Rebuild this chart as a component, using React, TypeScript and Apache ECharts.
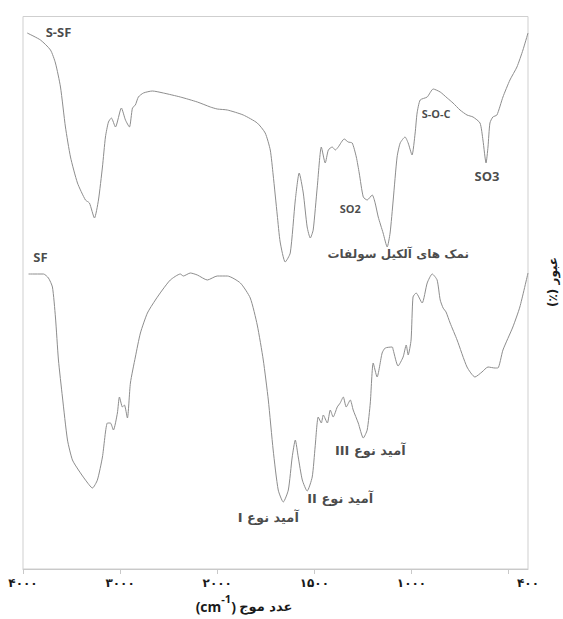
import React, { useEffect, useRef } from "react";
import * as echarts from "echarts";

// Axis ticks (wavenumber, cm-1). The scale changes at 2000 cm-1 (x2 expansion below).
const tickWavenumbers = [4000, 3000, 2000, 1500, 1000, 500];
const labelWavenumbers = [4000, 3000, 2000, 1500, 1000, 400];
const tickLabels = ["۴۰۰۰", "۳۰۰۰", "۲۰۰۰", "۱۵۰۰", "۱۰۰۰", "۴۰۰"];

// S-SF spectrum: [wavenumber, transmittance (offset, a.u.)]
const ssfSpectrum: [number, number][] = [
  [3957, 107.2], [3820, 105.8], [3717, 103.8], [3666, 101.2], [3614, 96.4], [3563, 88.4],
  [3511, 82.4], [3439, 77.2], [3357, 73.8], [3316, 73.2], [3264, 70.2], [3223, 73.8],
  [3182, 80.4], [3151, 86.4], [3120, 89.4], [3090, 90.2], [3048, 88.4], [2987, 92.2],
  [2945, 89.8], [2904, 88.4], [2873, 92.2], [2843, 92.8], [2812, 94.4], [2760, 95.2],
  [2668, 95.6], [2555, 95.2], [2380, 94.4], [2205, 93.4], [2071, 92.4], [2000, 92.0],
  [1948, 91.8], [1866, 90.8], [1794, 89.2], [1753, 87.2], [1727, 83.8], [1712, 78.8],
  [1691, 70.8], [1676, 65.4], [1650, 61.4], [1624, 63.2], [1598, 73.8], [1578, 79.2],
  [1557, 75.2], [1537, 68.4], [1521, 66.2], [1506, 67.8], [1485, 76.4], [1464, 84.4],
  [1444, 81.2], [1428, 83.8], [1408, 84.4], [1392, 83.8], [1377, 84.4], [1346, 86.0],
  [1326, 85.4], [1305, 85.2], [1284, 82.4], [1269, 79.2], [1248, 74.4], [1228, 73.8],
  [1202, 74.8], [1187, 73.2], [1171, 70.4], [1146, 67.2], [1125, 64.4], [1110, 67.2],
  [1094, 73.8], [1074, 82.4], [1058, 85.2], [1033, 86.4], [1017, 85.2], [997, 82.8],
  [981, 87.2], [971, 91.2], [955, 93.8], [919, 94.4], [888, 96.0], [852, 95.4],
  [816, 94.2], [786, 93.2], [750, 91.8], [714, 90.8], [683, 90.4], [647, 89.2],
  [632, 85.8], [616, 81.2], [606, 84.4], [596, 89.2], [581, 90.4], [560, 90.8],
  [529, 94.4], [493, 97.8], [457, 100.4], [426, 103.8], [400, 107.2],
];

// SF spectrum: [wavenumber, transmittance (offset, a.u.)]
const sfSpectrum: [number, number][] = [
  [3943, 59.0], [3789, 59.0], [3738, 58.2], [3697, 56.4], [3666, 50.4], [3635, 41.8],
  [3594, 34.4], [3542, 25.8], [3491, 21.8], [3429, 19.8], [3357, 17.8], [3285, 16.2],
  [3234, 17.8], [3182, 22.4], [3131, 29.2], [3100, 29.2], [3069, 27.8], [3028, 31.2],
  [3007, 34.4], [2976, 32.4], [2956, 32.8], [2925, 30.2], [2894, 37.2], [2843, 42.4],
  [2791, 47.2], [2719, 51.2], [2637, 53.8], [2565, 55.8], [2483, 57.8], [2380, 59.0],
  [2349, 58.6], [2277, 59.2], [2205, 58.8], [2102, 57.8], [2000, 58.6], [1948, 58.6],
  [1881, 57.2], [1830, 54.2], [1794, 48.8], [1763, 41.8], [1737, 33.8], [1712, 23.8],
  [1686, 15.8], [1660, 13.4], [1634, 15.8], [1614, 22.4], [1598, 25.8], [1583, 22.4],
  [1562, 17.8], [1537, 15.6], [1511, 18.4], [1496, 24.4], [1480, 30.4], [1464, 29.2],
  [1454, 30.8], [1433, 29.2], [1418, 31.8], [1403, 30.4], [1382, 32.4], [1367, 33.2],
  [1351, 34.4], [1336, 32.4], [1315, 33.8], [1300, 31.8], [1274, 29.2], [1248, 26.2],
  [1228, 27.8], [1212, 33.2], [1197, 41.2], [1177, 38.4], [1151, 43.2], [1135, 44.2],
  [1099, 44.4], [1094, 43.8], [1069, 40.6], [1043, 42.4], [1027, 44.8], [1017, 42.8],
  [1002, 45.8], [992, 54.4], [976, 55.2], [945, 53.2], [919, 57.2], [893, 59.0],
  [868, 57.8], [852, 53.8], [837, 52.2], [822, 51.4], [801, 49.2], [765, 45.8],
  [714, 40.4], [673, 38.4], [637, 39.4], [606, 40.4], [570, 40.2], [555, 40.2],
  [529, 43.8], [478, 48.4], [442, 52.4], [400, 59.2],
];

// Annotations
const annotationTexts = [
  "S-SF", "SF", "SO2", "S-O-C", "SO3",
  "نمک های آلکیل سولفات", "آمید نوع III", "آمید نوع II", "آمید نوع I",
];
const annotationWavenumbers = [3635, 3820, 1315, 873, 611, 1068, 1212, 1367, 1737];
const annotationTransmittance = [107.4, 62.4, 72.2, 91.2, 78.6, 63.0, 23.8, 14.2, 10.4];

const xTitle = "عدد موج";
const xUnit = "(cm";
const xUnitSup = "-1";
const yTitle = "عبور (٪)";

// piecewise wavenumber scale: 1000 cm-1 per unit above 2000, 500 cm-1 per unit below
const toAxis = (w: number) => (w >= 2000 ? (4000 - w) / 1000 : 2 + (2000 - w) / 500);

const RLE = "\u202B";
const PDF = "\u202C";
const isArabic = (s: string) => /[\u0600-\u06FF]/.test(s);

const latinFont = "'Open Sans', 'DejaVu Sans', sans-serif";
const arabicFont = "'DejaVu Sans', sans-serif";

const annotationStyle: Record<string, { fontSize: number }> = {
  "S-SF": { fontSize: 13 },
  SF: { fontSize: 13 },
  SO2: { fontSize: 11 },
  "S-O-C": { fontSize: 11 },
  SO3: { fontSize: 13 },
  "نمک های آلکیل سولفات": { fontSize: 12 },
  "آمید نوع III": { fontSize: 13 },
  "آمید نوع II": { fontSize: 13 },
  "آمید نوع I": { fontSize: 13 },
};

export default function App() {
  const ref = useRef<HTMLDivElement>(null);
  useEffect(() => {
    if (!ref.current) return;
    const chart = echarts.init(ref.current, undefined, { renderer: "svg" });
    const lineColor = "#8d8d8d";
    const labelPositions = labelWavenumbers.map(toAxis);
    chart.setOption({
      animation: false,
      backgroundColor: "#ffffff",
      grid: {
        left: 23,
        right: 35,
        top: 16.5,
        bottom: 50,
        show: true,
        borderColor: "#cfcfcf",
        borderWidth: 1,
      },
      xAxis: {
        type: "value",
        min: 0,
        max: toAxis(400),
        interval: 1,
        splitLine: { show: false },
        axisLine: { lineStyle: { color: "#c9c9c9", width: 1 } },
        axisTick: {
          show: true,
          customValues: tickWavenumbers.map(toAxis),
          length: 5,
          lineStyle: { color: "#c9c9c9" },
        },
        axisLabel: {
          customValues: labelPositions,
          margin: 8,
          color: "#1a1a1a",
          fontFamily: arabicFont,
          fontWeight: "bold",
          fontSize: 12,
          formatter: (u: number) => {
            const i = labelPositions.findIndex((p) => Math.abs(p - u) < 1e-6);
            return i >= 0 ? tickLabels[i] : "";
          },
        },
      },
      yAxis: {
        type: "value",
        min: 0,
        max: 110.5,
        show: false,
      },
      series: [
        {
          name: "S-SF",
          type: "line",
          showSymbol: false,
          smooth: 0.2,
          lineStyle: { color: lineColor, width: 1 },
          data: ssfSpectrum.map(([w, v]) => [toAxis(w), v]),
          silent: true,
        },
        {
          name: "SF",
          type: "line",
          showSymbol: false,
          smooth: 0.2,
          lineStyle: { color: lineColor, width: 1 },
          data: sfSpectrum.map(([w, v]) => [toAxis(w), v]),
          silent: true,
        },
        {
          name: "labels",
          type: "scatter",
          symbolSize: 0,
          silent: true,
          data: annotationTexts.map((t, i) => {
            const ar = isArabic(t);
            const st = annotationStyle[t] || { fontSize: 11 };
            return {
              value: [toAxis(annotationWavenumbers[i]), annotationTransmittance[i]],
              label: {
                show: true,
                position: "inside",
                formatter: ar ? RLE + t + PDF : t,
                color: "#1a1a1a",
                fontFamily: ar ? arabicFont : latinFont,
                fontWeight: "bold",
                fontSize: st.fontSize,
              },
            };
          }),
        },
      ],
      graphic: [
        {
          type: "text",
          x: 244,
          y: 603,
          style: {
            text: `{a|${xUnit}}{s|${xUnitSup}}{a|)} {b|${xTitle}}`,
            align: "center",
            verticalAlign: "middle",
            fill: "#1a1a1a",
            rich: {
              a: { fontFamily: latinFont, fontWeight: "bold", fontSize: 14, lineHeight: 20, verticalAlign: "bottom", fill: "#1a1a1a" },
              s: { fontFamily: latinFont, fontWeight: "bold", fontSize: 11, lineHeight: 20, verticalAlign: "top", fill: "#1a1a1a" },
              b: { fontFamily: arabicFont, fontWeight: "bold", fontSize: 13, lineHeight: 20, verticalAlign: "bottom", fill: "#1a1a1a" },
            },
          },
        },
        {
          type: "text",
          x: 553,
          y: 282,
          rotation: Math.PI / 2,
          style: {
            text: RLE + yTitle + PDF,
            align: "center",
            verticalAlign: "middle",
            fill: "#1a1a1a",
            fontFamily: arabicFont,
            fontWeight: "bold",
            fontSize: 12,
          },
        },
      ],
    });
    return () => chart.dispose();
  }, []);
  return (
    <div
      ref={ref}
      style={{ position: "fixed", left: 0, top: 0, width: 563, height: 619, background: "#fff" }}
    />
  );
}
